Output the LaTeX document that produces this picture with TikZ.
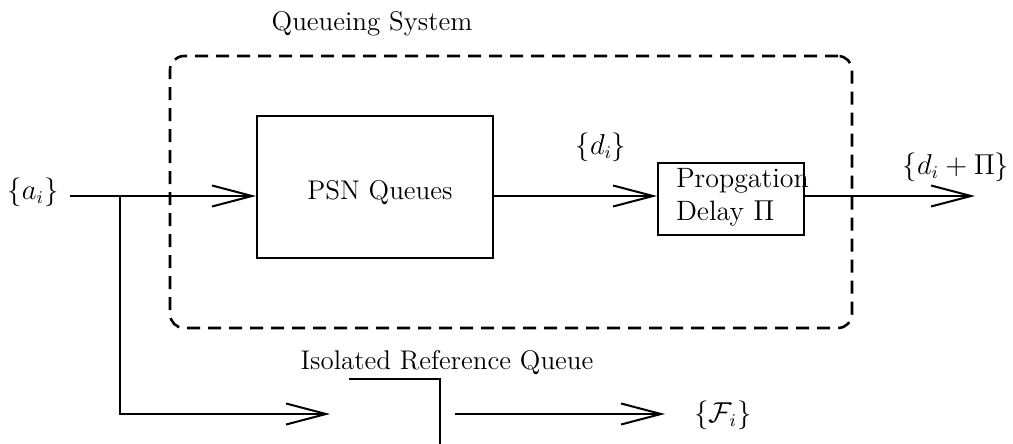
\documentclass[tikz,border=0pt]{standalone}
\usetikzlibrary{arrows.meta}
\begin{document}
\begin{tikzpicture}[x=0.5pt,y=-0.5pt,
  line width=1pt,
  every node/.style={font=\fontsize{13.5}{16.5}\selectfont, inner sep=0pt},
  flow/.style={-{Straight Barb[length=20pt,width=10.5pt,line width=1pt]}},
  block/.style={draw, line width=1pt, rectangle},
  sysbox/.style={draw, line width=1.3pt, dash pattern=on 6.5pt off 4pt, rounded corners=7pt}]
\useasboundingbox (0,0) rectangle (1013,444);

% the dashed frame of the queueing system and its title
\node[sysbox, minimum width=341pt, minimum height=136pt] (sys) at (511,192) {};
\node (title) at (372,24) {Queueing System};

% blocks inside the system
\node[block, minimum width=118pt, minimum height=71pt] (psn) at (375,187) {};
\node (psntext) at (380,193) {PSN Queues};
\node[block, minimum width=73pt, minimum height=36pt] (prop) at (731,199) {};
\node[anchor=west, align=left, font=\fontsize{14}{16.5}\selectfont] (proptext) at (675,197) {Propgation\\Delay $\Pi$};

% input, output and intermediate labels
\node (ain) at (33,192) {$\{a_i\}$};
\node (dlab) at (601,147) {$\{d_i\}$};
\node (dout) at (956,167) {$\{d_i+\Pi\}$};

% main path
\coordinate (src) at (70,196);
\coordinate (split) at (120,196);
\coordinate (sink) at (975,196);
\draw[flow] (src) -- (psn.west |- src);
\draw[flow] (psn.east |- src) -- (prop.west |- src);
\draw[flow] (prop.east |- src) -- (sink);

% isolated reference queue
\node (reflabel) at (447,363) {Isolated Reference Queue};
\coordinate (qback) at (349,379);
\coordinate (qwall) at (440,379);
\coordinate (qfoot) at (440,444);
\draw (qback) -- (qwall) -- (qfoot);
\coordinate (refin) at (330,414);
\draw[flow] (split) |- (refin);
\coordinate (refout) at (455,414);
\coordinate (refsink) at (665,414);
\draw[flow] (refout) -- (refsink);
\node (F) at (723,415) {$\{\mathcal{F}_i\}$};
\end{tikzpicture}
\end{document}
